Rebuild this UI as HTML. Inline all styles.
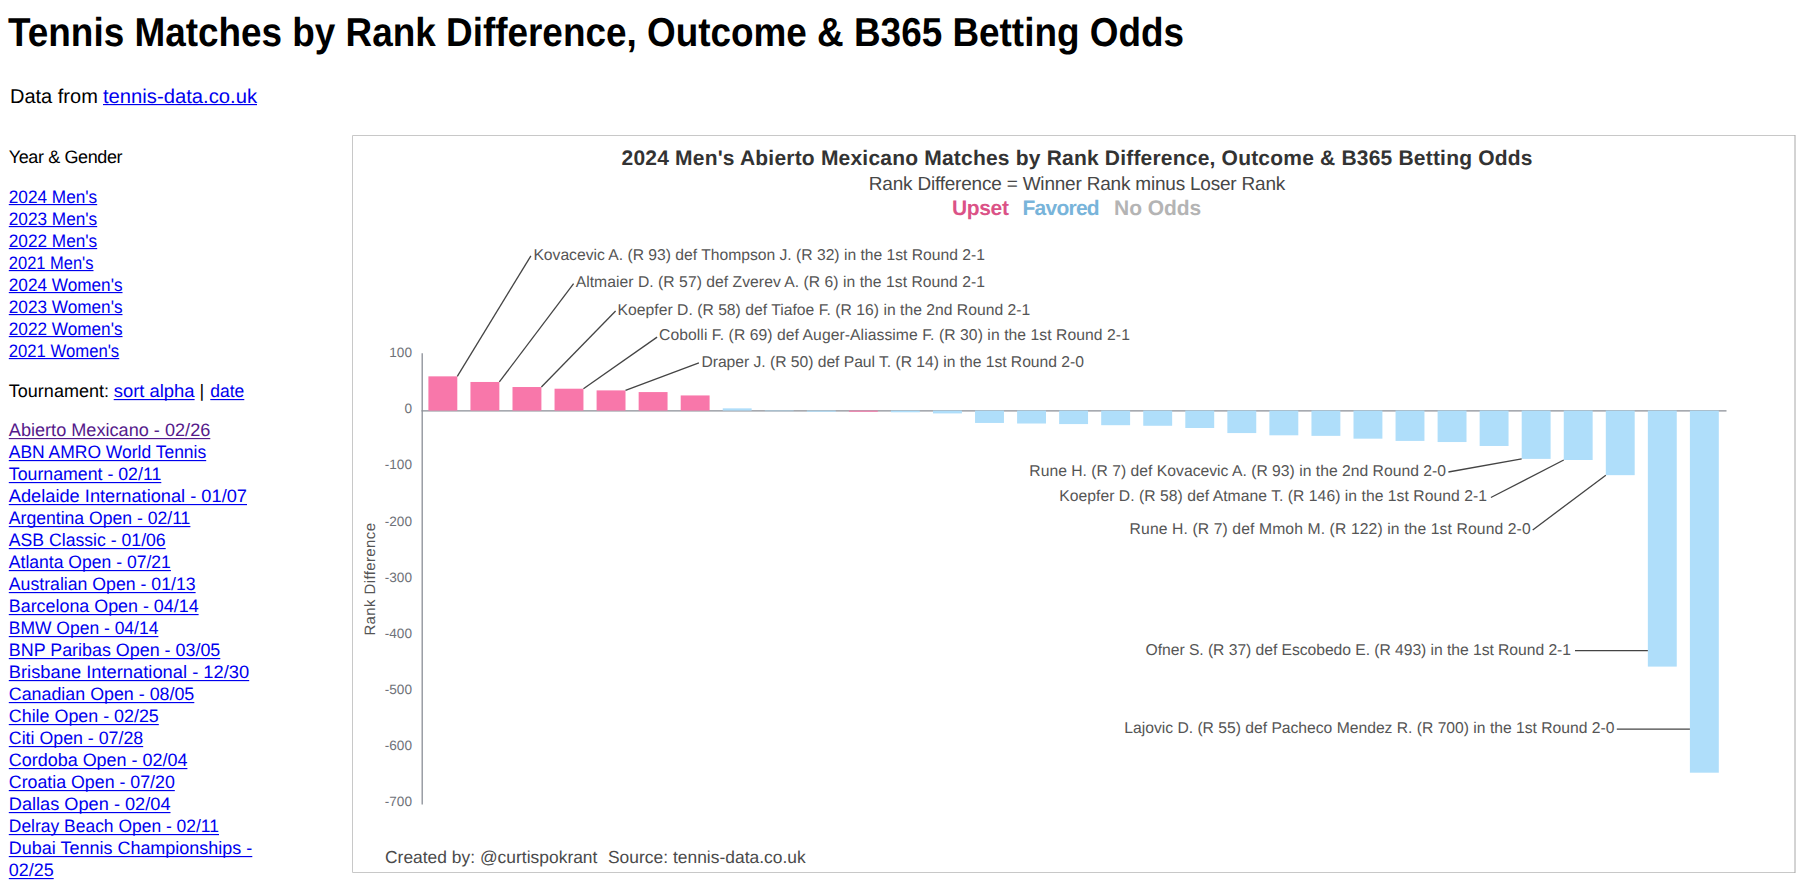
<!DOCTYPE html>
<html><head><meta charset="utf-8"><title>Tennis Matches by Rank Difference</title>
<style>
html,body{margin:0;padding:0;background:#fff;width:1807px;height:881px;overflow:hidden}
svg{position:absolute;left:0;top:0}
text{font-family:"Liberation Sans",sans-serif}
.box{position:absolute;left:352px;top:135px;width:1442px;height:736px;border:1px solid #c8c8c8;background:#fff}
</style></head><body>

<svg width="1807" height="881" viewBox="0 0 1807 881" text-rendering="geometricPrecision">
<path d="M1795,135.5 H352.5 V872.5 H1795" fill="none" stroke="#c8c8c8" stroke-width="1"/><line x1="1795" y1="135" x2="1795" y2="873" stroke="#a8a8a8" stroke-width="1"/>
<text x="8" y="45.9" font-size="40.5" fill="#000" font-weight="bold" textLength="1176" lengthAdjust="spacingAndGlyphs">Tennis Matches by Rank Difference, Outcome &amp; B365 Betting Odds</text><text x="10" y="103" font-size="20" fill="#000">Data from </text><text x="103" y="103" font-size="20" fill="#0000ee" textLength="154" lengthAdjust="spacingAndGlyphs">tennis-data.co.uk</text><rect x="103" y="104" width="154" height="1.15" fill="#0000ee"/><text x="8.8" y="163" font-size="18" fill="#000" textLength="113.7" lengthAdjust="spacing">Year &amp; Gender</text><text x="8.8" y="202.8" font-size="18" fill="#0000ee" textLength="88.4" lengthAdjust="spacingAndGlyphs">2024 Men's</text><rect x="8.8" y="204" width="88.4" height="1.15" fill="#0000ee"/><text x="8.8" y="224.8" font-size="18" fill="#0000ee" textLength="88.4" lengthAdjust="spacingAndGlyphs">2023 Men's</text><rect x="8.8" y="226" width="88.4" height="1.15" fill="#0000ee"/><text x="8.8" y="246.8" font-size="18" fill="#0000ee" textLength="88.4" lengthAdjust="spacingAndGlyphs">2022 Men's</text><rect x="8.8" y="248" width="88.4" height="1.15" fill="#0000ee"/><text x="8.8" y="268.8" font-size="18" fill="#0000ee" textLength="84.7" lengthAdjust="spacingAndGlyphs">2021 Men's</text><rect x="8.8" y="270" width="84.7" height="1.15" fill="#0000ee"/><text x="8.8" y="290.8" font-size="18" fill="#0000ee" textLength="113.7" lengthAdjust="spacingAndGlyphs">2024 Women's</text><rect x="8.8" y="292" width="113.7" height="1.15" fill="#0000ee"/><text x="8.8" y="312.8" font-size="18" fill="#0000ee" textLength="113.7" lengthAdjust="spacingAndGlyphs">2023 Women's</text><rect x="8.8" y="314" width="113.7" height="1.15" fill="#0000ee"/><text x="8.8" y="334.8" font-size="18" fill="#0000ee" textLength="113.7" lengthAdjust="spacingAndGlyphs">2022 Women's</text><rect x="8.8" y="336" width="113.7" height="1.15" fill="#0000ee"/><text x="8.8" y="356.8" font-size="18" fill="#0000ee" textLength="110.4" lengthAdjust="spacingAndGlyphs">2021 Women's</text><rect x="8.8" y="358" width="110.4" height="1.15" fill="#0000ee"/><text x="8.8" y="397.1" font-size="18" fill="#000" textLength="100.2" lengthAdjust="spacing">Tournament:</text><text x="113.7" y="397.1" font-size="18" fill="#0000ee" textLength="80.9" lengthAdjust="spacingAndGlyphs">sort alpha</text><rect x="113.7" y="399" width="80.89999999999999" height="1.15" fill="#0000ee"/><text x="199.5" y="397.1" font-size="18" fill="#000">|</text><text x="210.3" y="397.1" font-size="18" fill="#0000ee" textLength="34.0" lengthAdjust="spacingAndGlyphs">date</text><rect x="210.3" y="399" width="34.0" height="1.15" fill="#0000ee"/><text x="8.8" y="436.4" font-size="18" fill="#551a8b" textLength="201.5" lengthAdjust="spacingAndGlyphs">Abierto Mexicano - 02/26</text><rect x="8.8" y="438" width="201.5" height="1.15" fill="#551a8b"/><text x="8.8" y="458.4" font-size="18" fill="#0000ee" textLength="197.4" lengthAdjust="spacingAndGlyphs">ABN AMRO World Tennis</text><rect x="8.8" y="460" width="197.39999999999998" height="1.15" fill="#0000ee"/><text x="8.8" y="480.4" font-size="18" fill="#0000ee" textLength="152.5" lengthAdjust="spacingAndGlyphs">Tournament - 02/11</text><rect x="8.8" y="482" width="152.5" height="1.15" fill="#0000ee"/><text x="8.8" y="502.4" font-size="18" fill="#0000ee" textLength="238.2" lengthAdjust="spacingAndGlyphs">Adelaide International - 01/07</text><rect x="8.8" y="504" width="238.2" height="1.15" fill="#0000ee"/><text x="8.8" y="524.4" font-size="18" fill="#0000ee" textLength="181.6" lengthAdjust="spacingAndGlyphs">Argentina Open - 02/11</text><rect x="8.8" y="526" width="181.6" height="1.15" fill="#0000ee"/><text x="8.8" y="546.4" font-size="18" fill="#0000ee" textLength="156.9" lengthAdjust="spacingAndGlyphs">ASB Classic - 01/06</text><rect x="8.8" y="548" width="156.89999999999998" height="1.15" fill="#0000ee"/><text x="8.8" y="568.4" font-size="18" fill="#0000ee" textLength="162.1" lengthAdjust="spacingAndGlyphs">Atlanta Open - 07/21</text><rect x="8.8" y="570" width="162.1" height="1.15" fill="#0000ee"/><text x="8.8" y="590.4" font-size="18" fill="#0000ee" textLength="186.8" lengthAdjust="spacingAndGlyphs">Australian Open - 01/13</text><rect x="8.8" y="592" width="186.79999999999998" height="1.15" fill="#0000ee"/><text x="8.8" y="612.4" font-size="18" fill="#0000ee" textLength="189.8" lengthAdjust="spacingAndGlyphs">Barcelona Open - 04/14</text><rect x="8.8" y="614" width="189.79999999999998" height="1.15" fill="#0000ee"/><text x="8.8" y="634.4" font-size="18" fill="#0000ee" textLength="149.6" lengthAdjust="spacingAndGlyphs">BMW Open - 04/14</text><rect x="8.8" y="636" width="149.6" height="1.15" fill="#0000ee"/><text x="8.8" y="656.4" font-size="18" fill="#0000ee" textLength="211.5" lengthAdjust="spacingAndGlyphs">BNP Paribas Open - 03/05</text><rect x="8.8" y="658" width="211.5" height="1.15" fill="#0000ee"/><text x="8.8" y="678.4" font-size="18" fill="#0000ee" textLength="240.4" lengthAdjust="spacingAndGlyphs">Brisbane International - 12/30</text><rect x="8.8" y="680" width="240.39999999999998" height="1.15" fill="#0000ee"/><text x="8.8" y="700.4" font-size="18" fill="#0000ee" textLength="185.5" lengthAdjust="spacingAndGlyphs">Canadian Open - 08/05</text><rect x="8.8" y="702" width="185.5" height="1.15" fill="#0000ee"/><text x="8.8" y="722.4" font-size="18" fill="#0000ee" textLength="150.0" lengthAdjust="spacingAndGlyphs">Chile Open - 02/25</text><rect x="8.8" y="724" width="150.0" height="1.15" fill="#0000ee"/><text x="8.8" y="744.4" font-size="18" fill="#0000ee" textLength="134.4" lengthAdjust="spacingAndGlyphs">Citi Open - 07/28</text><rect x="8.8" y="746" width="134.39999999999998" height="1.15" fill="#0000ee"/><text x="8.8" y="766.4" font-size="18" fill="#0000ee" textLength="178.6" lengthAdjust="spacingAndGlyphs">Cordoba Open - 02/04</text><rect x="8.8" y="768" width="178.6" height="1.15" fill="#0000ee"/><text x="8.8" y="788.4" font-size="18" fill="#0000ee" textLength="166.0" lengthAdjust="spacingAndGlyphs">Croatia Open - 07/20</text><rect x="8.8" y="790" width="166.0" height="1.15" fill="#0000ee"/><text x="8.8" y="810.4" font-size="18" fill="#0000ee" textLength="161.7" lengthAdjust="spacingAndGlyphs">Dallas Open - 02/04</text><rect x="8.8" y="812" width="161.7" height="1.15" fill="#0000ee"/><text x="8.8" y="832.4" font-size="18" fill="#0000ee" textLength="210.2" lengthAdjust="spacingAndGlyphs">Delray Beach Open - 02/11</text><rect x="8.8" y="834" width="210.2" height="1.15" fill="#0000ee"/><text x="8.8" y="854.4" font-size="18" fill="#0000ee" textLength="243.5" lengthAdjust="spacingAndGlyphs">Dubai Tennis Championships -</text><rect x="8.8" y="856" width="243.5" height="1.15" fill="#0000ee"/><text x="8.8" y="876.4" font-size="18" fill="#0000ee" textLength="44.9" lengthAdjust="spacingAndGlyphs">02/25</text><rect x="8.8" y="878" width="44.900000000000006" height="1.15" fill="#0000ee"/>
<text x="621.5" y="164.9" font-size="21" fill="#333" font-weight="bold" textLength="911" lengthAdjust="spacing">2024 Men's Abierto Mexicano Matches by Rank Difference, Outcome &amp; B365 Betting Odds</text><text x="868.8" y="190" font-size="19" fill="#474747" textLength="416.5" lengthAdjust="spacing">Rank Difference = Winner Rank minus Loser Rank</text><text x="951.9" y="214.7" font-size="21" fill="#db5287" font-weight="bold" textLength="57" lengthAdjust="spacing">Upset</text><text x="1022.4" y="214.7" font-size="21" fill="#78b4da" font-weight="bold" textLength="77.3" lengthAdjust="spacing">Favored</text><text x="1114.1" y="214.7" font-size="21" fill="#b4b4b4" font-weight="bold" textLength="87.2" lengthAdjust="spacing">No Odds</text><text x="412" y="357.2" font-size="13.6" fill="#6e7178" text-anchor="end">100</text><text x="412" y="413.3" font-size="13.6" fill="#6e7178" text-anchor="end">0</text><text x="412" y="469.4" font-size="13.6" fill="#6e7178" text-anchor="end">-100</text><text x="412" y="525.6" font-size="13.6" fill="#6e7178" text-anchor="end">-200</text><text x="412" y="581.7" font-size="13.6" fill="#6e7178" text-anchor="end">-300</text><text x="412" y="637.9" font-size="13.6" fill="#6e7178" text-anchor="end">-400</text><text x="412" y="694.0" font-size="13.6" fill="#6e7178" text-anchor="end">-500</text><text x="412" y="750.1" font-size="13.6" fill="#6e7178" text-anchor="end">-600</text><text x="412" y="806.3" font-size="13.6" fill="#6e7178" text-anchor="end">-700</text><text x="0" y="0" font-size="15" fill="#555" textLength="112.6" lengthAdjust="spacing" transform="translate(375,635.6) rotate(-90)">Rank Difference</text><line x1="422.2" y1="353.3" x2="422.2" y2="804.5" stroke="#8a8e96" stroke-width="1.3"/><line x1="421.5" y1="410.9" x2="1726.5" y2="410.9" stroke="#8a8e96" stroke-width="1.3"/><rect x="428.4" y="376.35" width="28.9" height="34.25" fill="#f877aa"/><rect x="470.45" y="381.97" width="28.9" height="28.63" fill="#f877aa"/><rect x="512.5" y="387.02" width="28.9" height="23.58" fill="#f877aa"/><rect x="554.55" y="388.71" width="28.9" height="21.89" fill="#f877aa"/><rect x="596.6" y="390.39" width="28.9" height="20.21" fill="#f877aa"/><rect x="638.65" y="392.07" width="28.9" height="18.53" fill="#f877aa"/><rect x="680.7" y="395.44" width="28.9" height="15.16" fill="#f877aa"/><rect x="722.75" y="408.35" width="28.9" height="2.25" fill="#afdefa"/><rect x="764.8" y="410.6" width="28.9" height="0.56" fill="#afdefa"/><rect x="806.85" y="410.6" width="28.9" height="1.12" fill="#afdefa"/><rect x="848.9" y="410.6" width="28.9" height="1.12" fill="#f877aa"/><rect x="890.95" y="410.6" width="28.9" height="1.68" fill="#afdefa"/><rect x="933.0" y="410.6" width="28.9" height="2.81" fill="#afdefa"/><rect x="975.05" y="410.6" width="28.9" height="12.35" fill="#afdefa"/><rect x="1017.1" y="410.6" width="28.9" height="12.91" fill="#afdefa"/><rect x="1059.15" y="410.6" width="28.9" height="13.47" fill="#afdefa"/><rect x="1101.2" y="410.6" width="28.9" height="14.6" fill="#afdefa"/><rect x="1143.25" y="410.6" width="28.9" height="15.16" fill="#afdefa"/><rect x="1185.3" y="410.6" width="28.9" height="17.4" fill="#afdefa"/><rect x="1227.35" y="410.6" width="28.9" height="22.46" fill="#afdefa"/><rect x="1269.4" y="410.6" width="28.9" height="24.7" fill="#afdefa"/><rect x="1311.45" y="410.6" width="28.9" height="25.26" fill="#afdefa"/><rect x="1353.5" y="410.6" width="28.9" height="28.07" fill="#afdefa"/><rect x="1395.55" y="410.6" width="28.9" height="30.32" fill="#afdefa"/><rect x="1437.6" y="410.6" width="28.9" height="31.44" fill="#afdefa"/><rect x="1479.65" y="410.6" width="28.9" height="35.37" fill="#afdefa"/><rect x="1521.7" y="410.6" width="28.9" height="48.28" fill="#afdefa"/><rect x="1563.75" y="410.6" width="28.9" height="49.4" fill="#afdefa"/><rect x="1605.8" y="410.6" width="28.9" height="64.56" fill="#afdefa"/><rect x="1647.85" y="410.6" width="28.9" height="256.0" fill="#afdefa"/><rect x="1689.9" y="410.6" width="28.9" height="362.1" fill="#afdefa"/><line x1="457.3" y1="376.35" x2="530.9" y2="255.8" stroke="#444" stroke-width="1.3"/><text x="533.4" y="259.6" font-size="15.7" fill="#555" textLength="451.6" lengthAdjust="spacing">Kovacevic A. (R 93) def Thompson J. (R 32) in the 1st Round 2-1</text><line x1="499.35" y1="381.97" x2="573.6" y2="283.7" stroke="#444" stroke-width="1.3"/><text x="575.7" y="287" font-size="15.7" fill="#555" textLength="409.3" lengthAdjust="spacing">Altmaier D. (R 57) def Zverev A. (R 6) in the 1st Round 2-1</text><line x1="541.4" y1="387.02" x2="615.6" y2="311" stroke="#444" stroke-width="1.3"/><text x="617.6" y="314.7" font-size="15.7" fill="#555" textLength="412.7" lengthAdjust="spacing">Koepfer D. (R 58) def Tiafoe F. (R 16) in the 2nd Round 2-1</text><line x1="583.45" y1="388.71" x2="657.1" y2="337.1" stroke="#444" stroke-width="1.3"/><text x="659" y="340.4" font-size="15.7" fill="#555" textLength="470.9" lengthAdjust="spacing">Cobolli F. (R 69) def Auger-Aliassime F. (R 30) in the 1st Round 2-1</text><line x1="625.5" y1="390.39" x2="698.9" y2="362.9" stroke="#444" stroke-width="1.3"/><text x="701.4" y="366.5" font-size="15.7" fill="#555" textLength="382.5" lengthAdjust="spacing">Draper J. (R 50) def Paul T. (R 14) in the 1st Round 2-0</text><line x1="1448.4" y1="472" x2="1521.7" y2="458.88" stroke="#444" stroke-width="1.3"/><text x="1029.3" y="475.6" font-size="15.7" fill="#555" textLength="416.7" lengthAdjust="spacing">Rune H. (R 7) def Kovacevic A. (R 93) in the 2nd Round 2-0</text><line x1="1490.9" y1="497.5" x2="1563.75" y2="460.0" stroke="#444" stroke-width="1.3"/><text x="1059.2" y="500.7" font-size="15.7" fill="#555" textLength="427.7" lengthAdjust="spacing">Koepfer D. (R 58) def Atmane T. (R 146) in the 1st Round 2-1</text><line x1="1532.7" y1="530" x2="1605.8" y2="475.16" stroke="#444" stroke-width="1.3"/><text x="1129.6" y="533.7" font-size="15.7" fill="#555" textLength="401.1" lengthAdjust="spacing">Rune H. (R 7) def Mmoh M. (R 122) in the 1st Round 2-0</text><line x1="1575" y1="650.6" x2="1647.85" y2="650.6" stroke="#444" stroke-width="1.3"/><text x="1145.6" y="654.8" font-size="15.7" fill="#555" textLength="425.4" lengthAdjust="spacing">Ofner S. (R 37) def Escobedo E. (R 493) in the 1st Round 2-1</text><line x1="1616.8" y1="729.2" x2="1689.9" y2="729.2" stroke="#444" stroke-width="1.3"/><text x="1124.3" y="732.9" font-size="15.7" fill="#555" textLength="490.1" lengthAdjust="spacing">Lajovic D. (R 55) def Pacheco Mendez R. (R 700) in the 1st Round 2-0</text><text x="385" y="862.6" font-size="17.4" fill="#4a4a4a" textLength="212.4" lengthAdjust="spacing">Created by: @curtispokrant</text><text x="608" y="862.6" font-size="17.4" fill="#4a4a4a" textLength="197.7" lengthAdjust="spacing">Source: tennis-data.co.uk</text>
</svg>
</body></html>
